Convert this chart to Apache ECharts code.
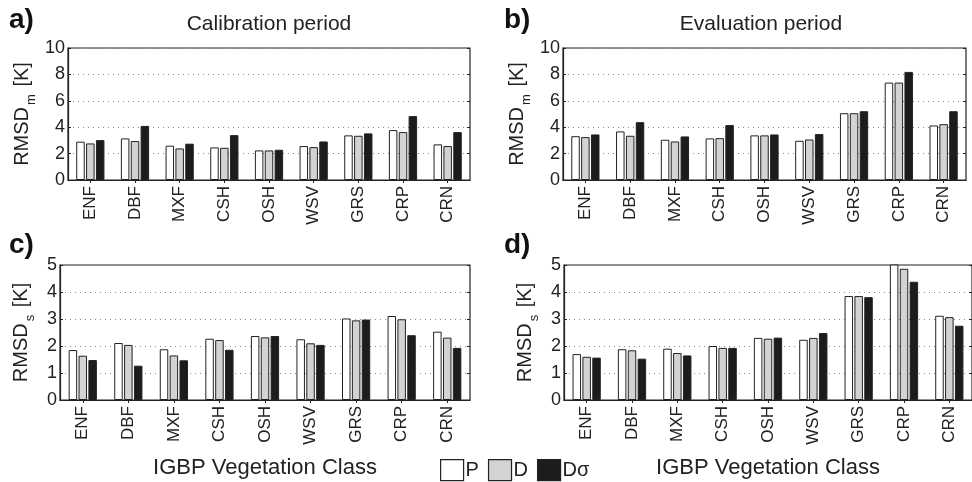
<!DOCTYPE html>
<html>
<head>
<meta charset="utf-8">
<script src="https://cdn.jsdelivr.net/npm/echarts@6/dist/echarts.min.js"></script>
<style>
html, body { margin: 0; padding: 0; background: #fff; }
#main { width: 972px; height: 482px; }
</style>
</head>
<body>
<div id="main"></div>
<script>
var classes = ['ENF', 'DBF', 'MXF', 'CSH', 'OSH', 'WSV', 'GRS', 'CRP', 'CRN'];
var seriesNames = ['P', 'D', 'Dσ'];

// a) calibration period, RMSD_m
var calMP = [2.90, 3.15, 2.60, 2.47, 2.24, 2.57, 3.38, 3.78, 2.70];
var calMD = [2.77, 2.95, 2.39, 2.44, 2.24, 2.49, 3.35, 3.63, 2.57];
var calMDs = [3.02, 4.10, 2.75, 3.40, 2.29, 2.92, 3.53, 4.84, 3.63];
// b) evaluation period, RMSD_m
var evaMP = [3.32, 3.68, 3.05, 3.15, 3.38, 2.97, 5.06, 7.38, 4.13];
var evaMD = [3.25, 3.35, 2.92, 3.17, 3.38, 3.07, 5.06, 7.38, 4.23];
var evaMDs = [3.45, 4.38, 3.30, 4.16, 3.45, 3.48, 5.21, 8.19, 5.21];
// c) calibration period, RMSD_s
var calSP = [1.85, 2.11, 1.88, 2.27, 2.37, 2.25, 3.02, 3.11, 2.53];
var calSD = [1.64, 2.04, 1.65, 2.22, 2.32, 2.10, 2.95, 2.99, 2.31];
var calSDs = [1.48, 1.27, 1.47, 1.86, 2.37, 2.04, 2.98, 2.40, 1.93];
// d) evaluation period, RMSD_s
var evaSP = [1.70, 1.88, 1.90, 2.00, 2.30, 2.23, 3.85, 5.20, 3.12];
var evaSD = [1.60, 1.84, 1.74, 1.93, 2.27, 2.30, 3.85, 4.86, 3.07];
var evaSDs = [1.57, 1.53, 1.65, 1.93, 2.31, 2.48, 3.81, 4.38, 2.75];

var mTicks = [0, 10, 2];
var sTicks = [0, 5, 1];

var FONT = 'Liberation Sans, Arial, Helvetica, sans-serif';
var INK = '#222';
var fills = ['#ffffff', '#d3d3d3', '#1c1c1c'];

var panels = [
  { box: { left: 68, top: 48, width: 402, height: 132 }, data: [calMP, calMD, calMDs], ticks: mTicks, sub: 'm', gap: 36, bottom: false },
  { box: { left: 563, top: 48, width: 403, height: 132 }, data: [evaMP, evaMD, evaMDs], ticks: mTicks, sub: 'm', gap: 36, bottom: false },
  { box: { left: 60, top: 265, width: 410, height: 135 }, data: [calSP, calSD, calSDs], ticks: sTicks, sub: 's', gap: 29, bottom: true },
  { box: { left: 564, top: 265, width: 414, height: 135 }, data: [evaSP, evaSD, evaSDs], ticks: sTicks, sub: 's', gap: 29, bottom: true }
];

var grid = [], xAxis = [], yAxis = [], series = [];

panels.forEach(function (p, i) {
  grid.push(Object.assign({ show: true, borderColor: INK, borderWidth: 1.2, backgroundColor: 'transparent' }, p.box));
  xAxis.push({
    type: 'category', gridIndex: i, data: classes, position: 'bottom',
    axisLine: { show: true, lineStyle: { color: INK, width: 1.2 } },
    axisTick: { show: true, inside: true, alignWithLabel: true, length: 3, lineStyle: { color: INK } },
    axisLabel: { rotate: 90, fontSize: 17, fontFamily: FONT, color: INK, margin: 6 },
    name: p.bottom ? 'IGBP Vegetation Class' : '',
    nameLocation: 'middle', nameGap: 57,
    nameTextStyle: { fontSize: 22, fontFamily: FONT, color: INK }
  });
  xAxis.push({
    type: 'category', gridIndex: i, data: classes, position: 'top',
    axisLine: { show: false },
    axisTick: { show: true, inside: true, alignWithLabel: true, length: 3, lineStyle: { color: INK } },
    axisLabel: { show: false }
  });
  yAxis.push({
    type: 'value', gridIndex: i, position: 'left',
    min: p.ticks[0], max: p.ticks[1], interval: p.ticks[2],
    axisLine: { show: true, lineStyle: { color: INK, width: 1.2 } },
    axisTick: { show: true, inside: true, length: 3, lineStyle: { color: INK } },
    axisLabel: { fontSize: 18, fontFamily: FONT, color: INK, margin: 3 },
    splitLine: { show: true, lineStyle: { color: '#888', type: [1, 4], width: 1 } },
    name: '{a|RMSD}{s|' + p.sub + '}{a| [K]}',
    nameLocation: 'middle', nameRotate: 90, nameGap: p.gap,
    nameTextStyle: {
      fontFamily: FONT, color: INK,
      rich: {
        a: { fontSize: 20, fontFamily: FONT, color: INK, verticalAlign: 'bottom' },
        s: { fontSize: 13, fontFamily: FONT, color: INK, verticalAlign: 'bottom', padding: [0, 2, -6, 2] }
      }
    }
  });
  yAxis.push({
    type: 'value', gridIndex: i, position: 'right',
    min: p.ticks[0], max: p.ticks[1], interval: p.ticks[2],
    axisLine: { show: false },
    axisTick: { show: true, inside: true, length: 3, lineStyle: { color: INK } },
    axisLabel: { show: false },
    splitLine: { show: false }
  });
  seriesNames.forEach(function (name, k) {
    series.push({
      name: name, type: 'bar',
      xAxisIndex: i * 2, yAxisIndex: i * 2,
      data: p.data[k],
      barWidth: 8.5, barGap: '16%',
      itemStyle: { color: fills[k], borderColor: INK, borderWidth: 1 },
      emphasis: { disabled: true },
      animation: false
    });
  });
});

var chart = echarts.init(document.getElementById('main'), null, { renderer: 'canvas' });
chart.setOption({
  animation: false,
  backgroundColor: '#fff',
  textStyle: { fontFamily: FONT },
  grid: grid,
  xAxis: xAxis,
  yAxis: yAxis,
  series: series,
  legend: {
    data: seriesNames,
    left: 440, top: 459, padding: 0,
    icon: 'rect', itemWidth: 23, itemHeight: 21, itemGap: 9,
    itemStyle: { borderColor: INK, borderWidth: 1.2 },
    textStyle: { fontSize: 20, fontFamily: FONT, color: INK, padding: [0, 0, 0, -3] },
    selectedMode: false
  },
  graphic: [
    { type: 'text', left: 9, top: 6, style: { text: 'a)', font: 'bold 28px ' + FONT, fill: '#111' } },
    { type: 'text', left: 504, top: 6, style: { text: 'b)', font: 'bold 28px ' + FONT, fill: '#111' } },
    { type: 'text', left: 9, top: 231, style: { text: 'c)', font: 'bold 28px ' + FONT, fill: '#111' } },
    { type: 'text', left: 504, top: 231, style: { text: 'd)', font: 'bold 28px ' + FONT, fill: '#111' } },
    { type: 'text', x: 269, y: 24, style: { text: 'Calibration period', font: '21px ' + FONT, fill: INK, textAlign: 'center', textVerticalAlign: 'middle' } },
    { type: 'text', x: 761, y: 24, style: { text: 'Evaluation period', font: '21px ' + FONT, fill: INK, textAlign: 'center', textVerticalAlign: 'middle' } }
  ]
});
</script>
</body>
</html>
